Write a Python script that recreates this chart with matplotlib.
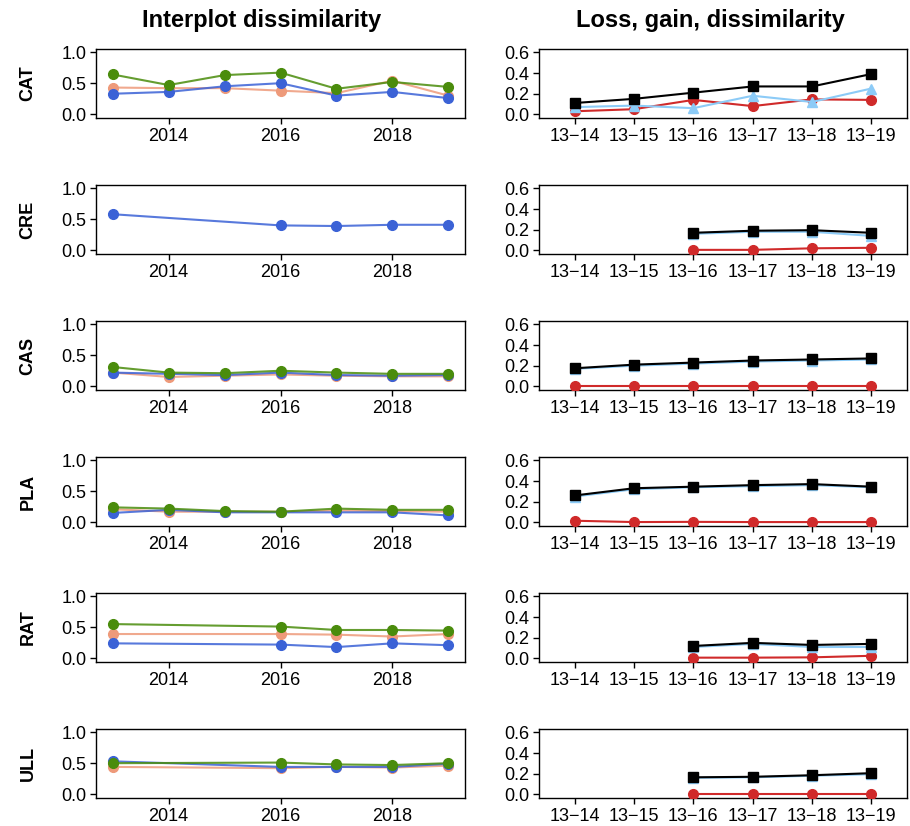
import matplotlib
matplotlib.use('Agg')
import matplotlib.pyplot as plt
import numpy as np

plt.rcParams['font.family'] = ['Liberation Sans', 'DejaVu Sans']

# x values
years_all = [2013, 2014, 2015, 2016, 2017, 2018, 2019]
years_some = [2013, 2016, 2017, 2018, 2019]
periods = ['13\u221214', '13\u221215', '13\u221216', '13\u221217', '13\u221218', '13\u221219']

sites = ['CAT', 'CRE', 'CAS', 'PLA', 'RAT', 'ULL']

# Interplot dissimilarity (salmon, blue, green)
cat_salmon = [0.43, 0.42, 0.42, 0.38, 0.34, 0.54, 0.30]
cat_blue = [0.33, 0.36, 0.45, 0.50, 0.30, 0.36, 0.26]
cat_green = [0.64, 0.47, 0.63, 0.67, 0.41, 0.52, 0.44]

cre_blue = [0.58, 0.40, 0.39, 0.41, 0.41]

cas_salmon = [0.22, 0.15, 0.17, 0.19, 0.17, 0.16, 0.16]
cas_blue = [0.22, 0.20, 0.18, 0.22, 0.18, 0.17, 0.18]
cas_green = [0.31, 0.22, 0.21, 0.25, 0.22, 0.20, 0.20]

pla_salmon = [0.21, 0.17, 0.17, 0.17, 0.19, 0.18, 0.17]
pla_blue = [0.15, 0.20, 0.16, 0.16, 0.16, 0.16, 0.11]
pla_green = [0.24, 0.22, 0.18, 0.17, 0.22, 0.20, 0.20]

rat_salmon = [0.39, 0.39, 0.38, 0.35, 0.39]
rat_blue = [0.24, 0.22, 0.18, 0.24, 0.21]
rat_green = [0.55, 0.51, 0.455, 0.455, 0.445]

ull_salmon = [0.44, 0.42, 0.44, 0.43, 0.46]
ull_blue = [0.53, 0.44, 0.44, 0.44, 0.49]
ull_green = [0.50, 0.51, 0.48, 0.47, 0.50]

# Loss (red), gain (light blue), dissimilarity (black)
cat_loss = [0.03, 0.05, 0.14, 0.08, 0.145, 0.14]
cat_gain = [0.07, 0.085, 0.06, 0.18, 0.12, 0.25]
cat_diss = [0.11, 0.15, 0.21, 0.27, 0.27, 0.39]

cre_loss = [None, None, 0.005, 0.005, 0.02, 0.025]
cre_gain = [None, None, 0.16, 0.18, 0.18, 0.14]
cre_diss = [None, None, 0.17, 0.19, 0.195, 0.17]

cas_loss = [0.005, 0.005, 0.005, 0.005, 0.005, 0.005]
cas_gain = [0.17, 0.20, 0.22, 0.24, 0.25, 0.26]
cas_diss = [0.175, 0.21, 0.23, 0.25, 0.26, 0.27]

pla_loss = [0.016, 0.003, 0.005, 0.003, 0.003, 0.003]
pla_gain = [0.25, 0.32, 0.34, 0.35, 0.36, 0.34]
pla_diss = [0.26, 0.33, 0.345, 0.36, 0.37, 0.345]

rat_loss = [None, None, 0.007, 0.007, 0.01, 0.025]
rat_gain = [None, None, 0.11, 0.14, 0.11, 0.11]
rat_diss = [None, None, 0.12, 0.15, 0.13, 0.14]

ull_loss = [None, None, 0.003, 0.003, 0.003, 0.003]
ull_gain = [None, None, 0.16, 0.165, 0.18, 0.195]
ull_diss = [None, None, 0.165, 0.17, 0.185, 0.205]

left_data = [
    (years_all, [cat_salmon, cat_blue, cat_green]),
    (years_some, [None, cre_blue, None]),
    (years_all, [cas_salmon, cas_blue, cas_green]),
    (years_all, [pla_salmon, pla_blue, pla_green]),
    (years_some, [rat_salmon, rat_blue, rat_green]),
    (years_some, [ull_salmon, ull_blue, ull_green]),
]
right_data = [
    [cat_loss, cat_gain, cat_diss],
    [cre_loss, cre_gain, cre_diss],
    [cas_loss, cas_gain, cas_diss],
    [pla_loss, pla_gain, pla_diss],
    [rat_loss, rat_gain, rat_diss],
    [ull_loss, ull_gain, ull_diss],
]

left_colors = ['#EE9A7A', '#3B62D6', '#4A8C0C']
right_colors = ['#D02A2A', '#8CCBF7', '#000000']
right_markers = ['o', '^', 's']

W, H = 910, 826
fig = plt.figure(figsize=(W / 100, H / 100), dpi=100)


def style_axes(ax):
    for sp in ax.spines.values():
        sp.set_linewidth(1.0)
    ax.tick_params(direction='out', length=4, width=1.0, labelsize=13, pad=3)


def to_arr(v):
    return np.array([np.nan if x is None else x for x in v], dtype=float)


for i, site in enumerate(sites):
    top = 49 + 136 * i
    h = 69
    bottom = 1 - (top + h) / H

    # left panel
    ax = fig.add_axes([96 / W, bottom, 369 / W, h / H])
    xs, series = left_data[i]
    for vals, col in zip(series, left_colors):
        if vals is None:
            continue
        ax.plot(xs, vals, color=col, lw=1.5, alpha=0.85, zorder=2)
        ax.plot(xs, vals, ls='none', marker='o', ms=7, color=col, zorder=3)
    ax.set_xlim(2012.7, 2019.3)
    ax.set_ylim(-0.06, 1.05)
    ax.set_xticks([2014, 2016, 2018])
    ax.set_yticks([0.0, 0.5, 1.0])
    ax.set_yticklabels(['0.0', '0.5', '1.0'])
    style_axes(ax)
    fig.text(28 / W, bottom + h / H / 2, site, rotation=90, ha='center', va='center',
             fontsize=13, fontweight='bold')
    if i == 0:
        fig.text(262 / W, 1 - 20 / H, 'Interplot dissimilarity', ha='center', va='center',
                 fontsize=17, fontweight='bold')

    # right panel
    ax2 = fig.add_axes([539 / W, bottom, 368 / W, h / H])
    xr = np.arange(len(periods))
    for vals, col, mk in zip(right_data[i], right_colors, right_markers):
        y = to_arr(vals)
        ax2.plot(xr, y, color=col, lw=1.5, marker=mk, ms=7, zorder=3)
    ax2.set_xlim(-0.6, len(periods) - 0.4)
    ax2.set_ylim(-0.035, 0.632)
    ax2.set_xticks(xr)
    ax2.set_xticklabels(periods)
    ax2.set_yticks([0.0, 0.2, 0.4, 0.6])
    ax2.set_yticklabels(['0.0', '0.2', '0.4', '0.6'])
    style_axes(ax2)
    if i == 0:
        fig.text(710 / W, 1 - 20 / H, 'Loss, gain, dissimilarity', ha='center', va='center',
                 fontsize=17, fontweight='bold')

fig.savefig('out.png', dpi=100)
